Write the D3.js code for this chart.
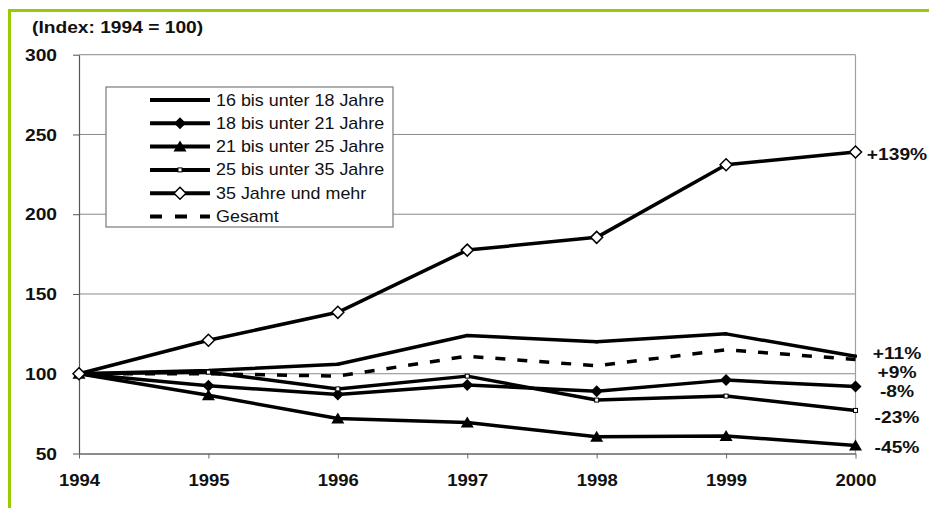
<!DOCTYPE html>
<html>
<head>
<meta charset="utf-8">
<script src="https://cdn.jsdelivr.net/npm/d3@7"></script>
<style>
  body { margin: 0; background: #fff; }
  svg { display: block; }
</style>
</head>
<body>
<svg id="chart" width="929" height="508"></svg>
<script>
// Index values per age group, 1994 = 100
const years = [1994, 1995, 1996, 1997, 1998, 1999, 2000];
const age16to18 = [100, 102, 106, 124, 120, 125, 111];
const age18to21 = [100, 92.5, 87, 93, 89, 96, 92];
const age21to25 = [100, 86.5, 72, 69.5, 60.5, 61, 55];
const age25to35 = [100, 101, 90.5, 98.5, 83.5, 86, 77];
const age35plus = [100, 121, 138.5, 177.5, 185.5, 231, 239];
const total = [100, 100, 98.5, 111, 105, 115, 109];

const seriesNames = [
  "16 bis unter 18 Jahre",
  "18 bis unter 21 Jahre",
  "21 bis unter 25 Jahre",
  "25 bis unter 35 Jahre",
  "35 Jahre und mehr",
  "Gesamt"
];
const endLabels = ["+11%", "-8%", "-45%", "-23%", "+139%", "+9%"];
const yTicks = [50, 100, 150, 200, 250, 300];
const gridValues = [100, 150, 200, 250];
const titleText = "(Index: 1994 = 100)";

const seriesValues = [age16to18, age18to21, age21to25, age25to35, age35plus, total];
const markerKinds = ["dot", "diamond", "triangle", "square", "diamondOpen", "none"];
// vertical nudges so the change labels do not collide
const labelNudge = [-3, 5, 2, 7, 2, 13];

const svg = d3.select("#chart");
const W = 929, H = 508;
const FONT = "'Liberation Sans', Arial, sans-serif";
const SX = 1.2; // the lettering here is set wide

svg.append("rect").attr("width", W).attr("height", H).attr("fill", "#fff");

// green frame on top and left
svg.append("rect").attr("x", 8).attr("y", 9).attr("width", W - 8).attr("height", 3).attr("fill", "#9acb00");
svg.append("rect").attr("x", 8).attr("y", 9).attr("width", 3).attr("height", H - 9).attr("fill", "#9acb00");

const x = d3.scaleLinear().domain([1994, 2000]).range([79, 855.5]);
const y = d3.scaleLinear().domain([50, 300]).range([453.5, 54.7]);

function wideText(sel, str, px, anchor, weight) {
  return sel.append("text")
    .attr("font-family", FONT)
    .attr("font-size", px)
    .attr("font-weight", weight || "bold")
    .attr("text-anchor", anchor || "start")
    .attr("fill", "#111")
    .text(str);
}

// title
wideText(svg, titleText, 16, "start")
  .attr("transform", `translate(32,32.5) scale(${SX},1)`);

// horizontal grid
svg.append("g").selectAll("line").data(gridValues).join("line")
  .attr("x1", x(1994)).attr("x2", x(2000))
  .attr("y1", d => y(d)).attr("y2", d => y(d))
  .attr("stroke", "#8a8a8a").attr("stroke-width", 1);

// plot frame top and right
svg.append("line").attr("x1", x(1994)).attr("x2", x(2000)).attr("y1", y(300)).attr("y2", y(300))
  .attr("stroke", "#a0a0a0").attr("stroke-width", 1.2);
svg.append("line").attr("x1", x(2000)).attr("x2", x(2000)).attr("y1", y(300)).attr("y2", y(50))
  .attr("stroke", "#a0a0a0").attr("stroke-width", 1.2);

// y axis
const yAxis = svg.append("g").attr("transform", `translate(${x(1994)},0)`)
  .call(d3.axisLeft(y).tickValues(yTicks).tickSize(6).tickSizeOuter(0).tickFormat(d3.format("d")));
yAxis.select(".domain").attr("stroke", "#555").attr("stroke-width", 1.2);
yAxis.selectAll(".tick line").attr("stroke", "#555");
yAxis.selectAll(".tick text")
  .attr("font-family", FONT).attr("font-size", 16).attr("font-weight", "bold").attr("fill", "#111")
  .attr("x", -22 / SX).attr("dy", "0.35em")
  .attr("transform", `scale(${SX},1)`);

// x axis
const xAxis = svg.append("g").attr("transform", `translate(0,${y(50)})`)
  .call(d3.axisBottom(x).tickValues(years).tickSize(5).tickSizeOuter(0).tickFormat(d3.format("d")));
xAxis.select(".domain").attr("stroke", "#666").attr("stroke-width", 1.5);
xAxis.selectAll(".tick line").attr("stroke", "#666");
xAxis.selectAll(".tick text")
  .attr("font-family", FONT).attr("font-size", 16.5).attr("font-weight", "bold").attr("fill", "#111")
  .attr("y", 33).attr("dy", 0)
  .attr("transform", "scale(1.12,1)");

// legend
const lg = svg.append("g");
lg.append("rect").attr("x", 106).attr("y", 87).attr("width", 287).attr("height", 140)
  .attr("fill", "#fff").attr("stroke", "#7a7a7a").attr("stroke-width", 1.2);

function drawMarker(g, kind, cx, cy) {
  if (kind === "diamond") {
    g.append("path").attr("d", `M${cx},${cy - 6}L${cx + 6},${cy}L${cx},${cy + 6}L${cx - 6},${cy}Z`)
      .attr("fill", "#000");
  } else if (kind === "diamondOpen") {
    g.append("path").attr("d", `M${cx},${cy - 6}L${cx + 6},${cy}L${cx},${cy + 6}L${cx - 6},${cy}Z`)
      .attr("fill", "#fff").attr("stroke", "#000").attr("stroke-width", 1.5);
  } else if (kind === "triangle") {
    g.append("path").attr("d", `M${cx},${cy - 6}L${cx + 6.5},${cy + 5}L${cx - 6.5},${cy + 5}Z`)
      .attr("fill", "#000");
  } else if (kind === "square") {
    g.append("rect").attr("x", cx - 2).attr("y", cy - 2).attr("width", 4).attr("height", 4)
      .attr("fill", "#fff").attr("stroke", "#000").attr("stroke-width", 1);
  } else if (kind === "dot") {
    g.append("rect").attr("x", cx - 1.5).attr("y", cy - 1.5).attr("width", 3).attr("height", 3)
      .attr("fill", "#000");
  }
}

seriesNames.forEach((name, i) => {
  const ry = 100 + i * 23.3;
  const dashed = markerKinds[i] === "none";
  lg.append("line").attr("x1", 150).attr("x2", 210).attr("y1", ry).attr("y2", ry)
    .attr("stroke", "#000").attr("stroke-width", 4)
    .attr("stroke-dasharray", dashed ? "12,13" : null);
  drawMarker(lg, markerKinds[i], 180, ry);
  lg.append("text")
    .attr("font-family", FONT).attr("font-size", 16).attr("fill", "#111")
    .attr("transform", `translate(216,${ry + 5.5}) scale(1.12,1)`)
    .text(name);
});

// series lines
const line = d3.line().x((d, j) => x(years[j])).y(d => y(d));
const plot = svg.append("g");
seriesValues.forEach((vals, i) => {
  plot.append("path").datum(vals).attr("d", line)
    .attr("fill", "none").attr("stroke", "#000").attr("stroke-width", 3.5)
    .attr("stroke-linejoin", "round")
    .attr("stroke-dasharray", markerKinds[i] === "none" ? "10,12" : null);
});
seriesValues.forEach((vals, i) => {
  vals.forEach((v, j) => drawMarker(plot, markerKinds[i], x(years[j]), y(v)));
});

// change labels at the right
seriesValues.forEach((vals, i) => {
  const last = vals[vals.length - 1];
  wideText(svg, endLabels[i], 16, "middle")
    .attr("transform", `translate(897,${y(last) + labelNudge[i] + 5.5}) scale(${SX},1)`);
});
</script>
</body>
</html>
